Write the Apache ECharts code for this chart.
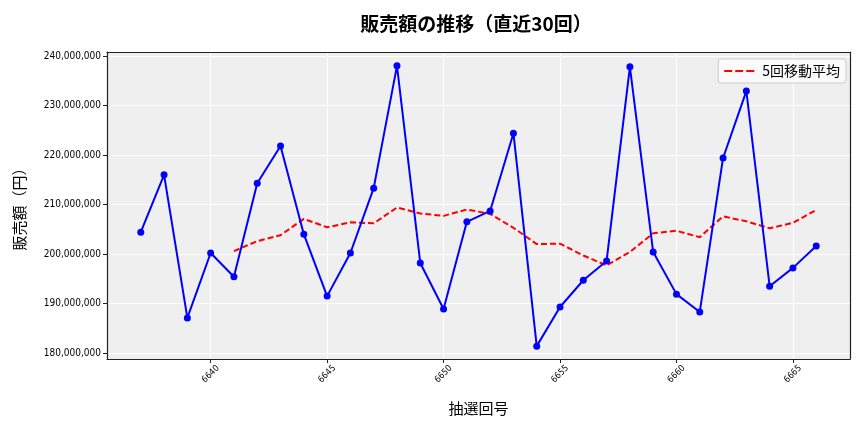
<!DOCTYPE html>
<html><head><meta charset="utf-8">
<script src="https://cdn.jsdelivr.net/npm/echarts@6/dist/echarts.min.js"></script>
<style>html,body{margin:0;padding:0;background:#fff}#c{width:864px;height:432px}</style>
</head><body><div id="c"></div>
<script>
const rounds = [6637,6638,6639,6640,6641,6642,6643,6644,6645,6646,6647,6648,6649,6650,6651,6652,6653,6654,6655,6656,6657,6658,6659,6660,6661,6662,6663,6664,6665,6666];
const sales = [204.4,216.0,187.1,200.2,195.4,214.3,221.8,204.0,191.5,200.2,213.3,238.0,198.2,188.9,206.5,208.7,224.4,181.4,189.3,194.7,198.6,237.8,200.4,191.9,188.3,219.4,232.9,193.5,197.2,201.6].map(v=>v*1e6);
const maRounds = [6641,6642,6643,6644,6645,6646,6647,6648,6649,6650,6651,6652,6653,6654,6655,6656,6657,6658,6659,6660,6661,6662,6663,6664,6665,6666];
const ma5 = [200.6,202.6,203.8,207.1,205.4,206.4,206.2,209.4,208.2,207.7,209.0,208.1,205.3,202.0,202.1,199.7,197.7,200.4,204.2,204.7,203.4,207.6,206.6,205.2,206.3,208.9].map(v=>v*1e6);
const titleText = '販売額の推移（直近30回）';
const xName = '抽選回号';
const yName = '販売額（円）';
const legendName = '5回移動平均';

const chart = echarts.init(document.getElementById('c'), null, {renderer:'canvas'});
const font = '"Noto Sans CJK JP","Noto Sans",sans-serif';
const numFont = '"DejaVu Sans Condensed","DejaVu Sans",sans-serif';
const frame = {show:true,lineStyle:{color:'#222',width:1.2}};
chart.setOption({
  animation:false,
  textStyle:{fontFamily:font},
  title:{text:titleText,left:471,top:9,textAlign:'center',
    textStyle:{fontFamily:font,fontSize:19,fontWeight:'bold',color:'#000'}},
  grid:{left:107,right:14,top:52,bottom:73,show:true,backgroundColor:'#efefef',borderWidth:0},
  legend:{data:[{name:legendName,icon:'path://M0,0h8v2h-8z M11,0h8v2h-8z M22,0h8v2h-8z'}],right:18,top:59,itemWidth:30,itemHeight:3,itemGap:8,
    backgroundColor:'rgba(255,255,255,0.7)',borderColor:'#ccc',borderWidth:1,borderRadius:3,padding:[5,6,5,6],
    textStyle:{fontFamily:font,fontSize:14,color:'#000',padding:[0,0,0,3]}},
  xAxis:[{type:'value',min:6635.55,max:6667.45,splitNumber:6,
    name:xName,nameLocation:'middle',nameGap:42,nameTextStyle:{fontFamily:font,fontSize:15,color:'#000'},
    axisLine:frame,
    axisTick:{show:true,length:4,lineStyle:{color:'#222'}},
    axisLabel:{rotate:45,fontSize:9,color:'#000',showMinLabel:false,showMaxLabel:false,margin:15,
      align:'center',verticalAlign:'middle',fontFamily:numFont,formatter:v=>String(Math.round(v))},
    splitLine:{show:true,lineStyle:{color:'#fff',width:1}}},
    {type:'value',position:'top',min:6635.55,max:6667.45,axisLine:frame,axisTick:{show:false},axisLabel:{show:false},splitLine:{show:false}}],
  yAxis:[{type:'value',min:178.8e6,max:240.8e6,splitNumber:6,
    name:yName,nameLocation:'middle',nameGap:80,nameTextStyle:{fontFamily:font,fontSize:15,color:'#000'},
    axisLine:frame,
    axisTick:{show:true,length:4,lineStyle:{color:'#222'}},
    axisLabel:{fontSize:10,color:'#000',showMinLabel:false,showMaxLabel:false,margin:6,
      fontFamily:numFont,formatter:v=>Math.round(v).toLocaleString('en-US')},
    splitLine:{show:true,lineStyle:{color:'#fff',width:1}}},
    {type:'value',position:'right',min:178.8e6,max:240.8e6,axisLine:frame,axisTick:{show:false},axisLabel:{show:false},splitLine:{show:false}}],
  series:[
    {name:'販売額',type:'line',data:rounds.map((r,i)=>[r,sales[i]]),
      lineStyle:{color:'#0000ff',width:2},itemStyle:{color:'#0000ff'},
      symbol:'circle',symbolSize:7,z:3},
    {name:legendName,type:'line',data:maRounds.map((r,i)=>[r,ma5[i]]),
      lineStyle:{color:'#ff0000',width:2,type:[6,3]},itemStyle:{color:'#ff0000'},
      symbol:'none',z:2}
  ]
});
</script></body></html>
